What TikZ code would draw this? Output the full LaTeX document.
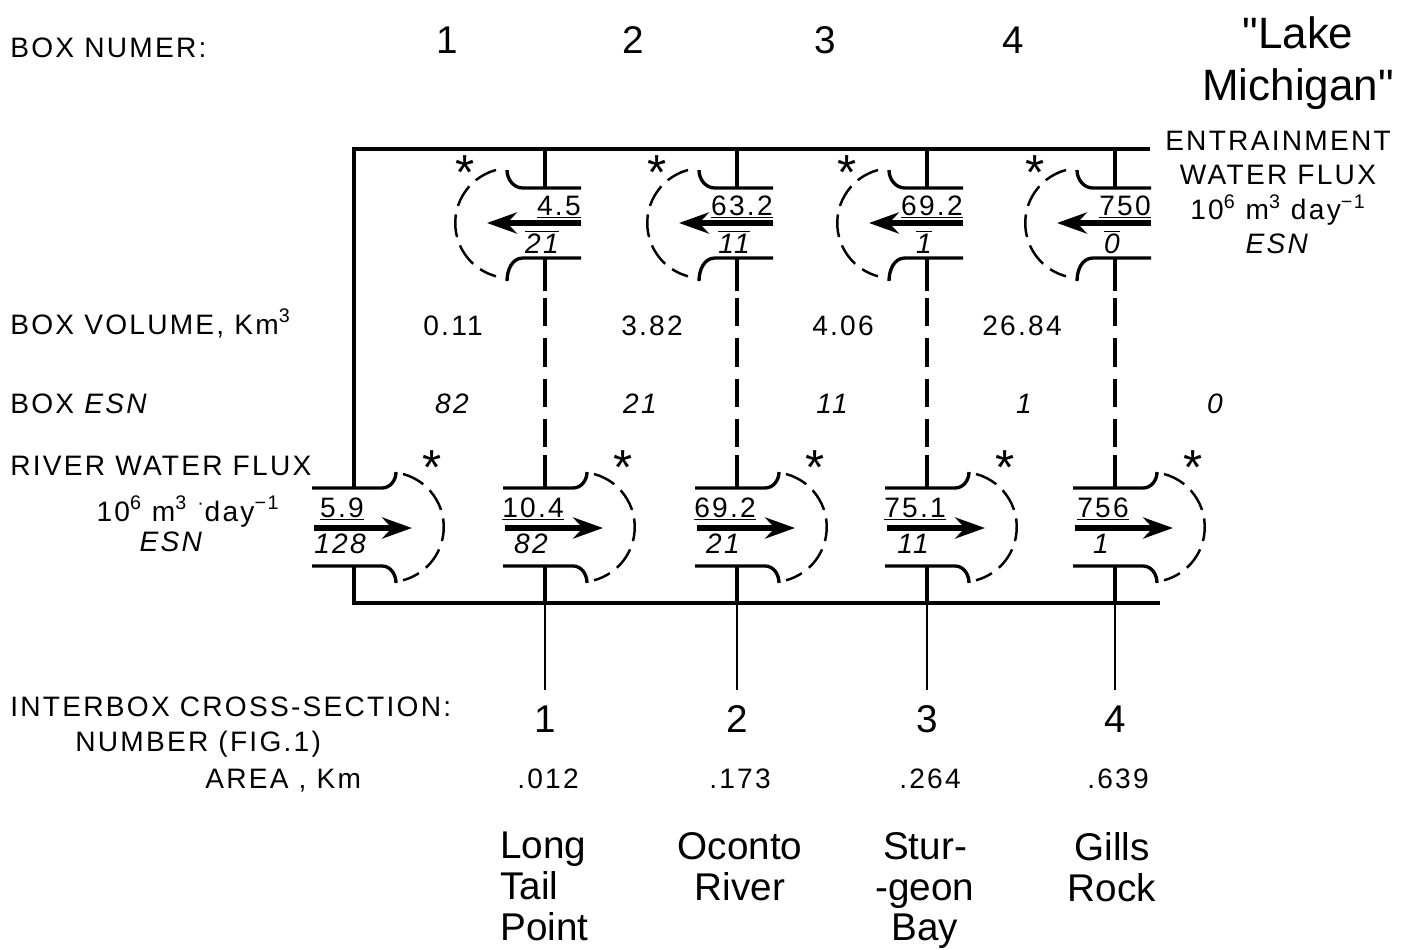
\documentclass[tikz,border=0pt]{standalone}
\usepackage{fontspec}
\setmainfont{Liberation Sans}
\newfontfamily\wide[LetterSpace=8]{Liberation Sans}
\newfontfamily\plainsans{Liberation Sans}
\usetikzlibrary{arrows.meta, calc}

\begin{document}
\begin{tikzpicture}[x=0.02cm, y=0.02cm, >={Stealth[length=17pt, width=12pt]},
  every node/.style={inner sep=0pt, font=\wide\fontsize{16}{19.5}\selectfont},
  frame/.style={line width=2.2pt},
  flange/.style={line width=1.9pt},
  hull/.style={line width=1.4pt, dash pattern=on 13pt off 5pt},
  divider/.style={line width=1.9pt, dash pattern=on 16pt off 7pt},
  flow/.style={->, line width=3pt},
  star/.style={anchor=north, font=\plainsans\fontsize{28}{28}\selectfont},
  rowlabel/.style={anchor=base west},
  value/.style={anchor=base},
  boxnum/.style={anchor=base, font=\plainsans\fontsize{22}{24}\selectfont},
  place/.style={anchor=north, align=center, font=\plainsans\fontsize{22}{23.2}\selectfont}]
  \useasboundingbox (0,0) rectangle (1401,-950);

  % frame
  \draw[frame] (1150,-149) -- (354,-149) -- (354,-488);
  \draw[frame] (354,-566) -- (354,-603) -- (1160,-603);

  % entrainment gates
  \foreach \x/\q/\e [count=\i] in {545/4.5/21, 737/63.2/11, 927/69.2/1, 1115/750/0} {
    \coordinate (e\i) at (\x,-223);
    \draw[flange] (\x,-149) -- (\x,-188);
    \draw[flange] ($(e\i)+(36,35)$) -- ($(e\i)+(-22,35)$) to[out=180,in=-90] ($(e\i)+(-38,53)$);
    \draw[flange] ($(e\i)+(36,-35)$) -- ($(e\i)+(-22,-35)$) to[out=180,in=90] ($(e\i)+(-38,-58)$);
    \draw[flange] (\x,-258) -- (\x,-291);
    \draw[hull] ($(e\i)+(-49,53)$) arc[start angle=105, end angle=255, radius=55];
    \draw[flow] ($(e\i)+(36,0)$) -- ($(e\i)+(-58,0)$);
    \node[anchor=base east] (eq\i) at ($(e\i)+(36,8)$) {\underline{\q}};
    \node[value] (ee\i) at ($(e\i)+(-3,-30)$) {$\overline{\hbox{\itshape\e}}$};
    \node[star] (es\i) at ($(e\i)+(-80,68)$) {*};
  }

  % river gates
  \foreach \x/\q/\e [count=\i from 0] in {354/5.9/128, 545/10.4/82, 737/69.2/21, 927/75.1/11, 1115/756/1} {
    \coordinate (r\i) at (\x,-527);
    \draw[flange] ($(r\i)+(-42,39)$) -- ($(r\i)+(28,39)$) to[out=0,in=-90] ($(r\i)+(42,55)$);
    \draw[flange] ($(r\i)+(-42,-39)$) -- ($(r\i)+(28,-39)$) to[out=0,in=90] ($(r\i)+(42,-56)$);
    \draw[hull] ($(r\i)+(49,53)$) arc[start angle=75, end angle=-75, radius=55];
    \draw[flow] ($(r\i)+(-40,-1)$) -- ($(r\i)+(58,-1)$);
    \node[value] (rq\i) at ($(r\i)+(-12,10)$) {\underline{\q}};
    \node[value] (re\i) at ($(r\i)+(-14,-26)$) {\itshape\e};
    \node[star] (rs\i) at ($(r\i)+(78,77)$) {*};
  }

  % interbox cross-sections
  \foreach \x/\a [count=\i] in {545/.012, 737/.173, 927/.264, 1115/.639} {
    \draw[divider] (\x,-298) -- (\x,-448);
    \draw[flange] (\x,-455) -- (\x,-488);
    \draw[flange] (\x,-566) -- (\x,-603);
    \draw[line width=1pt] (\x,-605) -- (\x,-690);
    \node[boxnum] (cs\i) at (\x,-732) {\i};
    \node[value] (ar\i) at ($(\x,-788)+(3,0)$) {\a};
  }

  % box rows
  \node[rowlabel] (boxnumer) at (10,-57) {BOX NUMER:};
  \node[boxnum] (b1) at (447,-53) {1};
  \node[boxnum] (b2) at (633,-53) {2};
  \node[boxnum] (b3) at (825,-53) {3};
  \node[boxnum] (b4) at (1013,-53) {4};
  \node[anchor=north, align=center, font=\plainsans\fontsize{25}{30}\selectfont] (lake) at (1298,-16) {"Lake\\Michigan"};
  \node[anchor=north, align=center] (entrain) at (1278,-131) {ENTRAINMENT\\WATER FLUX\\10\textsuperscript{6} m\textsuperscript{3} day\textsuperscript{−1}\\\textit{ESN}};

  \node[rowlabel] (volume) at (10,-334) {BOX VOLUME, Km\textsuperscript{3}};
  \node[value] (v1) at (453,-335) {0.11};
  \node[value] (v2) at (652,-335) {3.82};
  \node[value] (v3) at (843,-335) {4.06};
  \node[value] (v4) at (1022,-335) {26.84};

  \node[rowlabel] (boxesn) at (10,-413) {BOX \textit{ESN}};
  \node[value] (n1) at (452,-413) {\itshape 82};
  \node[value] (n2) at (640,-413) {\itshape 21};
  \node[value] (n3) at (832,-413) {\itshape 11};
  \node[value] (n4) at (1024,-413) {\itshape 1};
  \node[value] (n5) at (1215,-413) {\itshape 0};

  \node[rowlabel] (river) at (10,-475) {RIVER WATER FLUX};
  \node[value] (rivunit) at (188,-521) {10\textsuperscript{6} m\textsuperscript{3} \textsuperscript{·}day\textsuperscript{−1}};
  \node[value] (rivesn) at (172,-551) {\textit{ESN}};

  \node[rowlabel] (interbox) at (10,-716) {INTERBOX CROSS-SECTION:};
  \node[rowlabel] (number) at (75,-751) {NUMBER (FIG.1)};
  \node[rowlabel] (area) at (205,-788) {AREA , Km};

  % places
  \node[place, anchor=north west, align=left] (longtail) at (500,-832) {Long\\Tail\\Point};
  \node[place] (oconto) at (740,-832) {Oconto\\River};
  \node[place] (sturgeon) at (925,-832) {Stur-\\-geon\\Bay};
  \node[place] (gills) at (1112,-832) {Gills\\Rock};
\end{tikzpicture}
\end{document}
